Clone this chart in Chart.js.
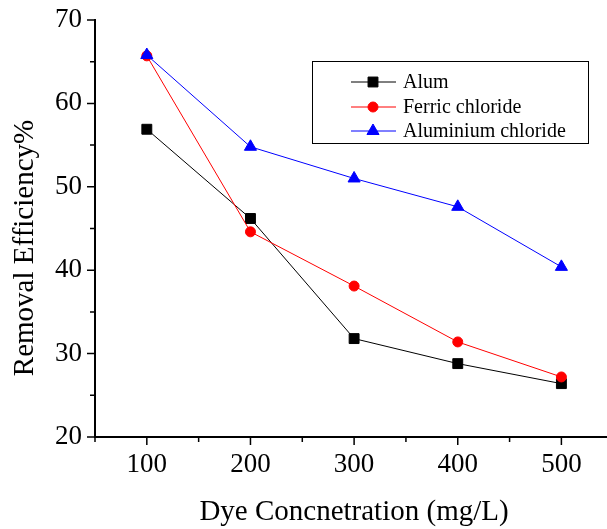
<!DOCTYPE html>
<html>
<head>
<meta charset="utf-8">
<script src="https://cdn.jsdelivr.net/npm/chart.js@4.4.0/dist/chart.umd.min.js"></script>
<style>
  html, body { margin: 0; padding: 0; background: #fff; }
  #wrap { width: 607px; height: 529px; position: relative; }
</style>
</head>
<body>
<div id="wrap"><canvas id="chart"></canvas></div>
<script>
// Dye concentration (mg/L) and removal efficiency (%)
const concentrations = [100, 200, 300, 400, 500];
const alum = [56.9, 46.2, 31.8, 28.8, 26.4];
const ferricChloride = [65.7, 44.6, 38.1, 31.4, 27.2];
const aluminiumChloride = [65.8, 54.8, 51.0, 47.6, 40.4];
const seriesNames = ['Alum', 'Ferric chloride', 'Aluminium chloride'];

// ticks (majors get labels)
const xTicks = [50, 100, 150, 200, 250, 300, 350, 400, 450, 500];
const xLabels = [100, 200, 300, 400, 500];
const yTicks = [20, 25, 30, 35, 40, 45, 50, 55, 60, 65, 70];
const yLabels = [20, 30, 40, 50, 60, 70];

const FONT = '"Liberation Serif", "Times New Roman", serif';

function toPoints(values) {
  return concentrations.map((c, i) => ({ x: c, y: values[i] }));
}

// ticks, axis titles and the boxed legend
const decor = {
  id: 'decor',
  afterDraw(chart) {
    const ctx = chart.ctx;
    const xs = chart.scales.x, ys = chart.scales.y;
    const area = chart.chartArea;
    ctx.save();
    ctx.strokeStyle = '#000';
    ctx.lineWidth = 1.5;
    ctx.beginPath();
    yTicks.forEach(v => {
      const py = ys.getPixelForValue(v);
      const len = yLabels.includes(v) ? 8 : 5;
      ctx.moveTo(area.left, py);
      ctx.lineTo(area.left - len, py);
    });
    xTicks.forEach(v => {
      const px = xs.getPixelForValue(v);
      const len = xLabels.includes(v) ? 8 : 5;
      ctx.moveTo(px, area.bottom);
      ctx.lineTo(px, area.bottom + len);
    });
    ctx.stroke();

    // axis titles
    ctx.fillStyle = '#000';
    ctx.font = '29px ' + FONT;
    ctx.textAlign = 'center';
    ctx.textBaseline = 'alphabetic';
    ctx.fillText('Dye Concnetration (mg/L)', 354, 520);
    ctx.save();
    ctx.translate(33, 248);
    ctx.rotate(-Math.PI / 2);
    ctx.fillText('Removal Efficiency%', 0, 0);
    ctx.restore();

    // legend
    ctx.lineWidth = 1;
    ctx.strokeRect(312.5, 61.5, 276, 82);
    ctx.font = '20px ' + FONT;
    ctx.textAlign = 'left';
    ctx.textBaseline = 'middle';
    const rows = [82, 107, 131];
    chart.data.datasets.forEach((ds, i) => {
      const y = rows[i];
      ctx.strokeStyle = ds.borderColor;
      ctx.fillStyle = ds.pointBackgroundColor;
      ctx.lineWidth = 1;
      ctx.beginPath();
      ctx.moveTo(351, y);
      ctx.lineTo(396, y);
      ctx.stroke();
      Chart.helpers.drawPoint(ctx, {
        pointStyle: ds.pointStyle, radius: ds.pointRadius, rotation: 0, borderWidth: 1
      }, 373, y);
      ctx.fillStyle = '#000';
      ctx.fillText(ds.label, 403, y + 1);
    });
    ctx.restore();
  }
};

new Chart(document.getElementById('chart'), {
  type: 'line',
  data: {
    datasets: [
      {
        label: seriesNames[0], data: toPoints(alum), order: 3,
        borderColor: '#000000', pointBackgroundColor: '#000000', pointBorderColor: '#000000',
        pointStyle: 'rect', pointRadius: 7, borderWidth: 1
      },
      {
        label: seriesNames[1], data: toPoints(ferricChloride), order: 2,
        borderColor: '#ff0000', pointBackgroundColor: '#ff0000', pointBorderColor: '#ff0000',
        pointStyle: 'circle', pointRadius: 5, borderWidth: 1
      },
      {
        label: seriesNames[2], data: toPoints(aluminiumChloride), order: 1,
        borderColor: '#0000ff', pointBackgroundColor: '#0000ff', pointBorderColor: '#0000ff',
        pointStyle: 'triangle', pointRadius: 7, borderWidth: 1
      }
    ]
  },
  options: {
    responsive: true,
    maintainAspectRatio: false,
    animation: false,
    layout: { autoPadding: false, padding: { top: 20, right: 0, left: 0, bottom: 0 } },
    plugins: {
      legend: { display: false },
      tooltip: { enabled: false }
    },
    elements: { line: { tension: 0 }, point: { borderWidth: 1 } },
    scales: {
      x: {
        type: 'linear',
        min: 50,
        max: 544,
        afterBuildTicks: s => { s.ticks = xTicks.map(v => ({ value: v })); },
        afterFit: s => { s.height = 92; s.paddingLeft = 0; s.paddingRight = 0; },
        grid: { display: false, drawTicks: false },
        border: { display: true, color: '#000', width: 2 },
        ticks: {
          autoSkip: false, maxRotation: 0, padding: 12, color: '#000',
          font: { family: FONT, size: 27 },
          callback: v => xLabels.includes(v) ? String(v) : ''
        }
      },
      y: {
        min: 20,
        max: 70,
        afterBuildTicks: s => { s.ticks = yTicks.map(v => ({ value: v })); },
        afterFit: s => { s.width = 95; s.paddingTop = 0; s.paddingBottom = 0; },
        grid: { display: false, drawTicks: false },
        border: { display: true, color: '#000', width: 2 },
        ticks: {
          autoSkip: false, padding: 13, color: '#000',
          font: { family: FONT, size: 27 },
          callback: v => yLabels.includes(v) ? String(v) : ''
        }
      }
    }
  },
  plugins: [decor]
});
</script>
</body>
</html>
